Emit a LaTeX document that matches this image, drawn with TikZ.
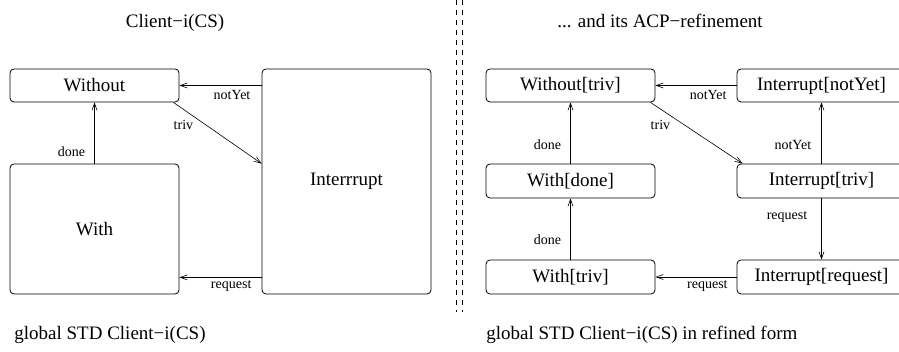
\documentclass[tikz,border=0pt]{standalone}
\usepackage{fontspec}
\setmainfont{Liberation Serif}
\usetikzlibrary{arrows.meta}
\tikzstyle{state}=[draw, rounded corners=4pt, inner sep=0pt, minimum width=169pt, font=\fontsize{19}{22}\selectfont]
\tikzstyle{small}=[inner sep=0pt, font=\fontsize{14}{16}\selectfont]
\tikzstyle{caption}=[inner sep=0pt, font=\fontsize{19}{22}\selectfont]
\tikzstyle{trans}=[-{Straight Barb[length=7pt,width=5pt]}, line width=0.6pt]

\begin{document}
\begin{tikzpicture}[x=1pt, y=-1pt, line width=0.8pt]
        \useasboundingbox (0,0) rectangle (899,352);
        % plain STD
        \node[caption, anchor=base]        (T1) at (175,28) {Client−i(CS)};
        \node[state, minimum height=33pt]  (W)  at (94.5,85.5) {Without};
        \node[state, minimum height=130pt] (Wi) at (94.5,229) {With};
        \node[state, minimum height=225pt] (I)  at (346.5,181.5) {Interrrupt};
        \draw[trans] (I.west |- W.east) -- node[small, pos=0.36, below=5pt] {notYet} (W.east);
        \draw[trans] ([xshift=-6pt]W.south east) -- node[small, pos=0.25, anchor=north east, xshift=-2pt, yshift=-2pt] {triv} (I.west |- Wi.north);
        \draw[trans] (Wi.north) -- node[small, pos=0.19, left=9pt] {done} (Wi.north |- W.south);
        \draw[trans] ([yshift=17pt]I.south west) -- node[small, pos=0.37, below=3pt] {request} ([yshift=17pt]Wi.south east);
        \node[caption, anchor=base west]   (C1) at (14,340) {global STD Client−i(CS)};
        % separator
        \draw[dash pattern=on 5pt off 5pt, line width=0.7pt] (456,0) -- (456,312);
        \draw[dash pattern=on 5pt off 5pt, line width=0.7pt] (462,0) -- (462,312);
        % refined STD
        \node[caption, anchor=base]       (T2) at (660,28) {... and its ACP−refinement};
        \node[state, minimum height=33pt] (B1) at (570.5,85.5) {Without[triv]};
        \node[state, minimum height=34pt] (B2) at (570.5,181) {With[done]};
        \node[state, minimum height=34pt] (B3) at (570.5,277) {With[triv]};
        \node[state, minimum height=33pt] (B4) at (821.5,85.5) {Interrupt[notYet]};
        \node[state, minimum height=34pt] (B5) at (821.5,181) {Interrupt[triv]};
        \node[state, minimum height=34pt] (B6) at (821.5,277) {Interrupt[request]};
        \draw[trans] (B4.west) -- node[small, pos=0.35, below=5pt] {notYet} (B1.east);
        \draw[trans] ([xshift=-5pt]B1.south east) -- node[small, pos=0.25, anchor=north east, xshift=-3pt, yshift=-2pt] {triv} ([xshift=6pt]B5.north west);
        \draw[trans] (B5.north) -- node[small, pos=0.3, left=10pt] {notYet} (B4.south);
        \draw[trans] (B5.south) -- node[small, pos=0.31, left=14pt] {request} (B6.north);
        \draw[trans] (B2.north) -- node[small, pos=0.31, left=9pt] {done} (B1.south);
        \draw[trans] (B3.north) -- node[small, pos=0.32, left=9pt] {done} (B2.south);
        \draw[trans] (B6.west) -- node[small, pos=0.36, below=3pt] {request} (B3.east);
        \node[caption, anchor=base west]  (C2) at (486,340) {global STD Client−i(CS) in refined form};
    \end{tikzpicture}
\end{document}
